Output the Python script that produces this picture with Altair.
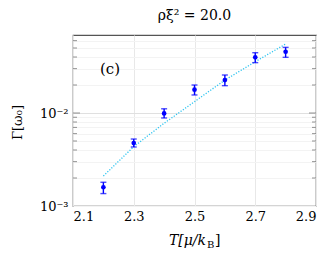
import altair as alt
import pandas as pd

# data
T = [2.2, 2.3, 2.4, 2.5, 2.6, 2.7, 2.8]
gamma = [0.00159, 0.00475, 0.0099, 0.0178, 0.0226, 0.0397, 0.0456]
gamma_lo = [0.00136, 0.00431, 0.00884, 0.01563, 0.01968, 0.0348, 0.0397]
gamma_hi = [0.00180, 0.00525, 0.0111, 0.0200, 0.02563, 0.0445, 0.0508]

fit_T = [2.2, 2.3, 2.4, 2.5, 2.6, 2.7, 2.8]
fit_gamma = [0.0021, 0.00435, 0.00776, 0.01324, 0.0226, 0.0356, 0.0552]

x_ticks = [2.1, 2.2, 2.3, 2.4, 2.5, 2.6, 2.7, 2.8, 2.9]
y_minor = [0.002, 0.003, 0.004, 0.005, 0.006, 0.007, 0.008, 0.009,
           0.02, 0.03, 0.04, 0.05, 0.06]
y_major = [0.001, 0.01]
y_ticks = y_major + y_minor

W, H = 243, 171
FONT = "DejaVu Serif"

pts = pd.DataFrame({"T": T, "g": gamma, "lo": gamma_lo, "hi": gamma_hi})
fit = pd.DataFrame({"T": fit_T, "g": fit_gamma})
minor_df = pd.DataFrame({"v": y_minor})
major_df = pd.DataFrame({"v": [0.01]})

xs = alt.Scale(domain=[2.1, 2.9], nice=False, zero=False)
ys = alt.Scale(type="log", domain=[0.001, 0.069], nice=False)

x_axis = alt.Axis(
    values=x_ticks, title=None, ticks=False, domain=False,
    labelExpr="(round(datum.value*10) % 2 == 1) ? format(datum.value, '.1f') : ''",
    gridColor="#e8e8e8", labelFont=FONT, labelFontSize=13, labelColor="black",
    labelPadding=4,
)
y_axis = alt.Axis(
    values=y_ticks, ticks=False, domain=False,
    labelExpr="abs(datum.value-0.001)<1e-9 ? '10⁻³' : (abs(datum.value-0.01)<1e-9 ? '10⁻²' : '')",
    gridColor={"condition": {"test": "abs(datum.value-0.01)<1e-9", "value": "#e0e0e0"}, "value": "#f3f3f3"},
    labelFont=FONT, labelFontSize=13, labelColor="black", labelPadding=5,
    title="Γ[ω₀]", titleFont=FONT, titleFontSize=13, titleFontWeight="normal",
    titleColor="black", titleAngle=-90, titleX=-56, titleY=87,
    titleAlign="center", titleBaseline="middle",
)

base = alt.Chart(pts)

grid = base.mark_point(opacity=0).encode(
    x=alt.X("T:Q", scale=xs, axis=x_axis),
    y=alt.Y("g:Q", scale=ys, axis=y_axis),
)

tick_color = "#777777"
left_minor = alt.Chart(minor_df).mark_rule(color=tick_color, strokeWidth=0.8).encode(
    y=alt.Y("v:Q", scale=ys), x=alt.value(0), x2=alt.value(4))
right_minor = alt.Chart(minor_df).mark_rule(color=tick_color, strokeWidth=0.8).encode(
    y=alt.Y("v:Q", scale=ys), x=alt.value(W - 4), x2=alt.value(W))
left_major = alt.Chart(major_df).mark_rule(color=tick_color, strokeWidth=0.8).encode(
    y=alt.Y("v:Q", scale=ys), x=alt.value(0), x2=alt.value(7))
right_major = alt.Chart(major_df).mark_rule(color=tick_color, strokeWidth=0.8).encode(
    y=alt.Y("v:Q", scale=ys), x=alt.value(W - 7), x2=alt.value(W))

fit_line = alt.Chart(fit).mark_line(
    color="#2ec4f0", strokeWidth=1.3, strokeDash=[1.2, 1.6]
).encode(x=alt.X("T:Q", scale=xs), y=alt.Y("g:Q", scale=ys))

bars = base.mark_rule(color="#0000ff", strokeWidth=1.4).encode(
    x=alt.X("T:Q", scale=xs), y=alt.Y("lo:Q", scale=ys), y2="hi:Q")
cap_lo = base.mark_tick(color="#0000ff", orient="horizontal", size=6, thickness=1.4).encode(
    x=alt.X("T:Q", scale=xs), y=alt.Y("lo:Q", scale=ys))
cap_hi = base.mark_tick(color="#0000ff", orient="horizontal", size=6, thickness=1.4).encode(
    x=alt.X("T:Q", scale=xs), y=alt.Y("hi:Q", scale=ys))
dots = base.mark_point(filled=True, shape="circle", size=22, color="#0000ff", opacity=1).encode(
    x=alt.X("T:Q", scale=xs), y=alt.Y("g:Q", scale=ys))

label_c = alt.Chart(pd.DataFrame({"t": ["(c)"]})).mark_text(
    font=FONT, fontSize=15, color="black", align="center", baseline="middle"
).encode(text="t:N", x=alt.value(37), y=alt.value(34))

xt1 = alt.Chart(pd.DataFrame({"t": ["T[μ/k"]})).mark_text(
    font=FONT, fontSize=14, fontStyle="italic", color="black", align="right", baseline="alphabetic"
).encode(text="t:N", x=alt.value(133), y=alt.value(210))
xt2 = alt.Chart(pd.DataFrame({"t": ["B"]})).mark_text(
    font=FONT, fontSize=10, color="black", align="left", baseline="alphabetic"
).encode(text="t:N", x=alt.value(134), y=alt.value(213))
xt3 = alt.Chart(pd.DataFrame({"t": ["]"]})).mark_text(
    font=FONT, fontSize=14, color="black", align="left", baseline="alphabetic"
).encode(text="t:N", x=alt.value(142), y=alt.value(210))

chart = alt.layer(
    grid, left_minor, right_minor, left_major, right_major,
    fit_line, bars, cap_lo, cap_hi, dots, label_c, xt1, xt2, xt3,
).properties(
    width=W, height=H,
    title=alt.TitleParams("ρξ² = 20.0", font=FONT, fontSize=14, fontWeight="normal",
                          color="black", anchor="middle", offset=12),
    autosize=alt.AutoSizeParams(type="none"),
    padding={"left": 65, "top": 27, "right": 9, "bottom": 42},
).configure_view(stroke="#555555", strokeWidth=1.2)

chart.save("out.html", embed_options={"renderer": "svg", "actions": False})
